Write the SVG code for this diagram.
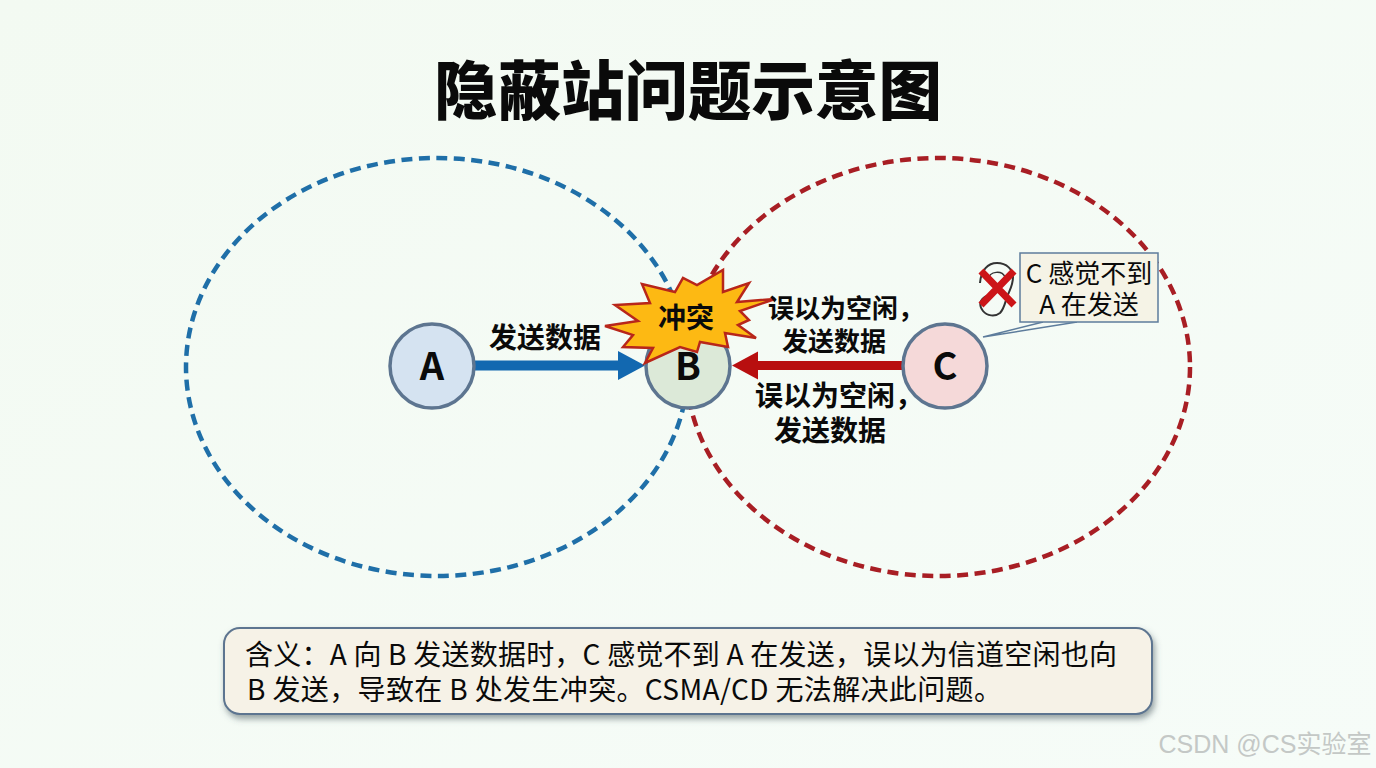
<svg xmlns="http://www.w3.org/2000/svg" width="1376" height="768" viewBox="0 0 1376 768">
<style>
text{font-family:"Noto Sans CJK SC","Noto Sans",sans-serif;fill:#0a0a0a;text-anchor:middle}
.n{stroke:#5d7590;stroke-width:3.5}
.letter{font-size:38px;font-weight:700}
.lb{font-size:28px;font-weight:700}
.lb2{font-size:26px;font-weight:700}
.range{fill:none;stroke-width:4.5;stroke-dasharray:11 6.500}
.nt{font-size:28px;text-anchor:start}
</style>
<defs>
<filter id="sh" x="-5%" y="-20%" width="110%" height="140%"><feDropShadow dx="2" dy="4" stdDeviation="3" flood-color="#4a5a60" flood-opacity=".55"/></filter>
<linearGradient id="bg" x1="0" y1="0" x2="1" y2="1"><stop offset="0" stop-color="#f3faf2"/><stop offset="1" stop-color="#f6fcf8"/></linearGradient>
</defs>
<rect width="1376" height="768" fill="url(#bg)"/>
<text x="688" y="114" font-size="63.500" style="font-weight:900">隐蔽站问题示意图</text>
<g id="ranges">
<ellipse id="range-a" class="range" cx="437" cy="367" rx="251" ry="209" stroke="#1f6fa8"/>
<ellipse id="range-c" class="range" cx="938" cy="367" rx="252" ry="209" stroke="#a81e24"/>
</g>
<g id="connectors">
<path d="M474 360.500H618V351L645 365.500L618 380V370.500H474Z" fill="#1268b0"/>
<path d="M905 361H758V351.500L732 365.500L758 379.500V370H905Z" fill="#b80f0f"/>
<path d="M983 337L1043 322M983 337L1077 322" stroke="#5d7c9c" stroke-width="1.500" fill="none"/>
</g>
<g id="node-a"><circle class="n" cx="432" cy="366" r="42" fill="#d5e3f1"/><text class="letter" x="432" y="380">A</text></g>
<g id="node-b"><circle class="n" cx="688" cy="366" r="42" fill="#dce9d8"/></g>
<g id="collision">
<polygon points="605,326 638,321 615,305 650,303 642,284 675,292 683,278 697,285 723,270 723,292 749,283 737,302 775,299 740,311 749,320 738,325 756,338 725,333 728,347 700,342 697,352 680,347 645,363 653,348 623,347 633,335" fill="#fdb913" stroke="#b8261a" stroke-width="2.500" stroke-linejoin="miter"/>
<text class="lb" x="686" y="328">冲突</text>
</g>
<text id="node-b-label" class="letter" x="688" y="380">B</text>
<g id="node-c"><circle class="n" cx="945" cy="366" r="42" fill="#f5d9d9"/><text class="letter" x="945" y="380">C</text></g>
<text class="lb" x="545" y="348">发送数据</text>
<text class="lb2" x="768" y="318" style="text-anchor:start">误以为空闲&#xFF0C;</text>
<text class="lb2" x="834" y="351">发送数据</text>
<text class="lb" x="755" y="406" style="text-anchor:start">误以为空闲&#xFF0C;</text>
<text class="lb" x="830" y="441">发送数据</text>
<g id="callout">
<rect x="1020" y="253" width="138" height="69" fill="#f5f3e6" stroke="#5d7c9c" stroke-width="1.500"/>
<text x="1089" y="283" font-size="26">C 感觉不到</text>
<text x="1089" y="314" font-size="26">A 在发送</text>
</g>
<g id="ear">
<path d="M980 283C981 270 988 263 997 263C1007 263 1013 270 1013 277C1013 286 1009 291 1007 297C1005 303 1004 309 1000 313C995 317 987 316 983 311C979 306 979 300 986 296" fill="none" stroke="#333" stroke-width="2"/>
<path d="M988 279C990 271 1002 270 1005 277" fill="none" stroke="#333" stroke-width="1.500"/>
<path d="M981 271L1014 305M1014 271L981 305" stroke="#cc1518" stroke-width="7"/>
</g>
<g id="note">
<rect x="224" y="628" width="928" height="86" rx="16" fill="#f6f2e7" stroke="#5d7590" stroke-width="2" filter="url(#sh)"/>
<text class="nt" x="245" y="665" textLength="872">含义&#xFF1A;A 向 B 发送数据时&#xFF0C;C 感觉不到 A 在发送&#xFF0C;误以为信道空闲也向</text>
<text class="nt" x="247" y="700" textLength="755">B 发送&#xFF0C;导致在 B 处发生冲突。CSMA/CD 无法解决此问题。</text>
</g>
<text x="1265" y="753" font-size="25" style="font-family:'Liberation Sans','Noto Sans CJK SC',sans-serif;fill:#c4c8c6">CSDN @CS实验室</text>
</svg>
